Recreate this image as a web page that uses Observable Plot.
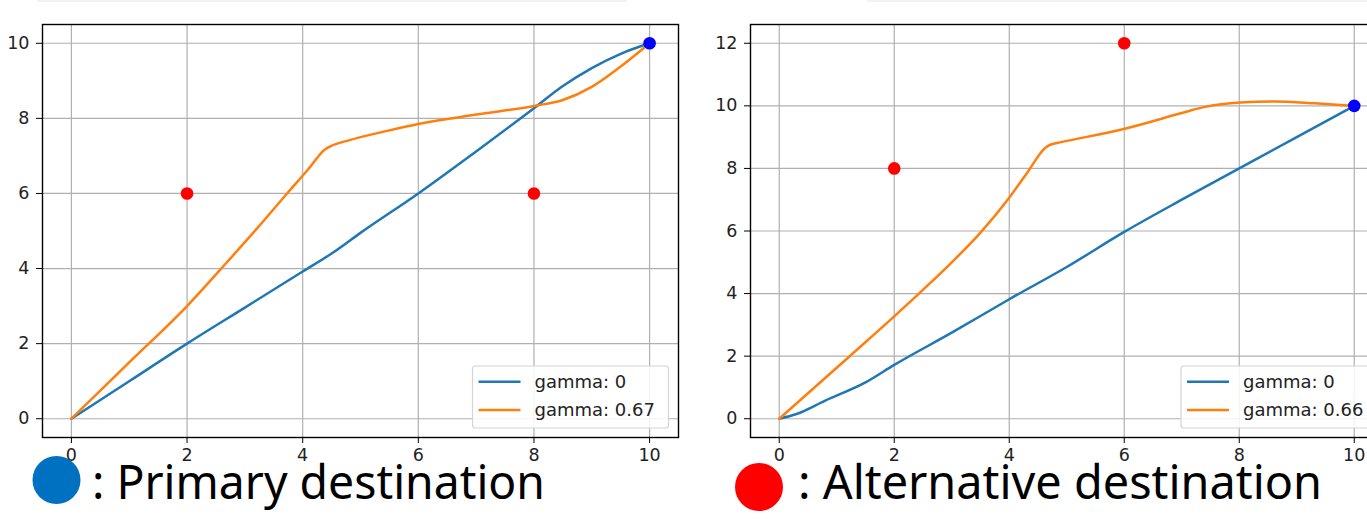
<!DOCTYPE html>
<html>
<head>
<meta charset="utf-8">
<script src="https://cdn.jsdelivr.net/npm/d3@7"></script>
<script src="https://cdn.jsdelivr.net/npm/@observablehq/plot@0.6"></script>
<style>
  html, body { margin: 0; padding: 0; background: #fff; }
  #wrap { position: relative; width: 1367px; height: 520px; overflow: hidden; background: #fff; }
  .panel { position: absolute; top: 0; width: 700px; height: 470px; }
  .panel svg { max-width: none !important; width: 700px; height: 470px; }
  #left { left: 0; }
  #right { left: 700px; }
  .topbar { position: absolute; top: 0; height: 2px; background: #f2f2f2; }
  #captions { position: absolute; left: 0; top: 0; pointer-events: none; }
</style>
</head>
<body>
<div id="wrap">
  <div class="topbar" style="left:37px;width:590px"></div>
  <div class="topbar" style="left:867px;width:500px"></div>
  <div id="left" class="panel"></div>
  <div id="right" class="panel"></div>
</div>
<script>
// ---- data ----
const xTicks = [0, 2, 4, 6, 8, 10];
const yTicksLeft = [0, 2, 4, 6, 8, 10];
const yTicksRight = [0, 2, 4, 6, 8, 10, 12];

const leftGamma0X = [0, 1, 2, 3, 4, 4.5, 5, 6, 7, 8, 8.5, 9, 9.5, 10];
const leftGamma0Y = [0, 1, 2, 2.96, 3.92, 4.4, 4.95, 6.0, 7.12, 8.27, 8.86, 9.34, 9.72, 10];

const leftGamma067X = [0, 1, 2, 2.72, 3.2, 3.73, 4.1, 4.39, 4.47, 4.81, 5.5, 6, 7, 8, 8.5, 9, 9.5, 10];
const leftGamma067Y = [0, 1.5, 3.0, 4.22, 5.05, 6.0, 6.65, 7.18, 7.25, 7.42, 7.68, 7.85, 8.1, 8.33, 8.49, 8.84, 9.38, 10];

const rightGamma0X = [0, 0.3, 0.8, 1.5, 2, 3, 4, 5, 6, 7, 8, 9, 10];
const rightGamma0Y = [0, 0.15, 0.58, 1.16, 1.72, 2.75, 3.82, 4.85, 5.97, 7.0, 8.0, 9.0, 10];

const rightGamma066X = [0, 1.22, 2, 2.43, 3.04, 3.5, 3.99, 4.3, 4.64, 4.75, 4.9, 6.01, 7, 7.38, 8.02, 8.63, 9.32, 10];
const rightGamma066Y = [0, 1.99, 3.27, 4.0, 5.07, 5.95, 7.04, 7.83, 8.68, 8.78, 8.84, 9.27, 9.77, 9.96, 10.11, 10.14, 10.08, 10];

const leftAltX = [2, 8];
const leftAltY = [6, 6];
const rightAltX = [2, 6];
const rightAltY = [8, 12];
const primaryX = [10];
const primaryY = [10];

const leftLabels = ["gamma: 0", "gamma: 0.67"];
const rightLabels = ["gamma: 0", "gamma: 0.66"];
const captionLeft = ": Primary destination";
const captionRight = ": Alternative destination";

const BLUE = "#1f77b4", ORANGE = "#ff7f0e";

function toRows(xs, ys) { return xs.map((x, i) => ({x, y: ys[i]})); }

function panel(opts) {
  const grid = {stroke: "#b0b0b0", strokeOpacity: 1, strokeWidth: 1.2};
  const plot = Plot.plot({
    width: 700, height: 470,
    marginLeft: opts.marginLeft, marginRight: opts.marginRight,
    marginTop: 24, marginBottom: 33,
    x: {domain: [-0.5, 10.5]},
    y: {domain: opts.yDomain},
    style: {fontFamily: "'DejaVu Sans', sans-serif", fontSize: "17.5px", color: "#222", background: "transparent", overflow: "visible"},
    marks: [
      Plot.gridX(xTicks, grid),
      Plot.gridY(opts.yTicks, grid),
      Plot.line(toRows(opts.s0x, opts.s0y), {x: "x", y: "y", stroke: BLUE, strokeWidth: 2.5, curve: "monotone-x"}),
      Plot.line(toRows(opts.s1x, opts.s1y), {x: "x", y: "y", stroke: ORANGE, strokeWidth: 2.5, curve: "monotone-x"}),
      Plot.dot(toRows(opts.altX, opts.altY), {x: "x", y: "y", r: 6.3, fill: "#ff0000"}),
      Plot.dot(toRows(primaryX, primaryY), {x: "x", y: "y", r: 6.3, fill: "#0000ff"}),
      Plot.frame({stroke: "#000", strokeWidth: 1.4}),
      Plot.axisX(xTicks, {tickSize: 6, tickPadding: 5, label: null, stroke: "#000", fontSize: 17.5}),
      Plot.axisY(opts.yTicks, {tickSize: 6, tickPadding: 7, label: null, stroke: "#000", fontSize: 17.5})
    ]
  });
  // legend box (pixel layout in panel coordinates)
  const svg = d3.select(plot);
  const lx = opts.legendX, ly = 366;
  const g = svg.append("g").attr("text-anchor", "start");
  g.append("rect").attr("x", lx).attr("y", ly).attr("width", 196).attr("height", 62)
    .attr("rx", 3).attr("fill", "#fff").attr("fill-opacity", 0.85)
    .attr("stroke", "#d4d4d4").attr("stroke-width", 1.2);
  [[BLUE, opts.labels[0], ly + 15.7], [ORANGE, opts.labels[1], ly + 44]].forEach(([c, t, yy]) => {
    g.append("line").attr("x1", lx + 6).attr("x2", lx + 48).attr("y1", yy).attr("y2", yy)
      .attr("stroke", c).attr("stroke-width", 2.6);
    g.append("text").attr("x", lx + 62).attr("y", yy).attr("dy", "0.36em")
      .attr("text-anchor", "start")
      .attr("font-family", "'DejaVu Sans', sans-serif").attr("font-size", 18)
      .attr("fill", "#222").text(t);
  });
  return plot;
}

document.getElementById("left").appendChild(panel({
  marginLeft: 42, marginRight: 22, yDomain: [-0.5, 10.5], yTicks: yTicksLeft,
  s0x: leftGamma0X, s0y: leftGamma0Y, s1x: leftGamma067X, s1y: leftGamma067Y,
  altX: leftAltX, altY: leftAltY, legendX: 472.5, labels: leftLabels
}));
document.getElementById("right").appendChild(panel({
  marginLeft: 50, marginRight: 17.5, yDomain: [-0.6, 12.6], yTicks: yTicksRight,
  s0x: rightGamma0X, s0y: rightGamma0Y, s1x: rightGamma066X, s1y: rightGamma066Y,
  altX: rightAltX, altY: rightAltY, legendX: 481, labels: rightLabels
}));

// captions overlay
const cap = d3.select("#wrap").append("svg").attr("id", "captions")
  .attr("width", 1367).attr("height", 520);
cap.append("circle").attr("cx", 56.5).attr("cy", 480).attr("r", 24).attr("fill", "#0070C0");
cap.append("text").attr("x", 92).attr("y", 499.3).attr("font-family", "'Noto Sans', 'Open Sans', sans-serif")
  .attr("font-size", 47).attr("fill", "#000").attr("textLength", 453).attr("lengthAdjust", "spacingAndGlyphs")
  .text(captionLeft);
cap.append("circle").attr("cx", 759).attr("cy", 487).attr("r", 24).attr("fill", "#ff0000");
cap.append("text").attr("x", 798).attr("y", 499.3).attr("font-family", "'Noto Sans', 'Open Sans', sans-serif")
  .attr("font-size", 47).attr("fill", "#000").attr("textLength", 524).attr("lengthAdjust", "spacingAndGlyphs")
  .text(captionRight);
</script>
</body>
</html>
